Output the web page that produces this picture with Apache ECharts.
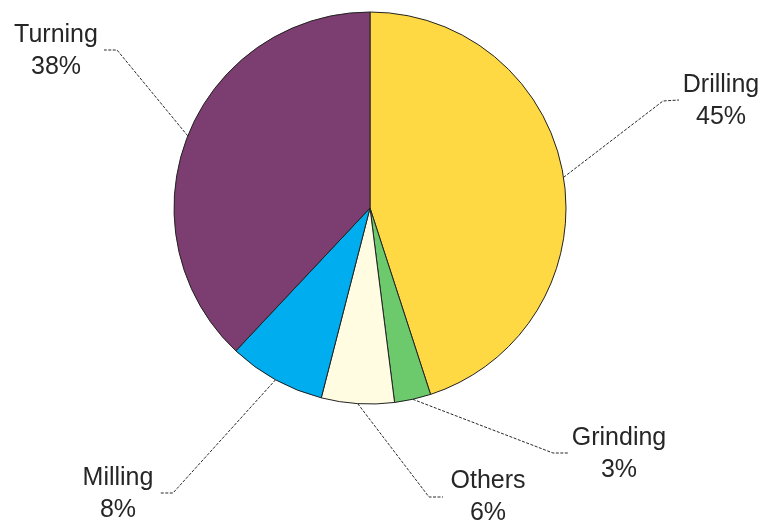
<!DOCTYPE html>
<html>
<head>
<meta charset="utf-8">
<script src="https://cdn.jsdelivr.net/npm/echarts@6/dist/echarts.min.js"></script>
<style>html,body{margin:0;padding:0;background:#fff;}#c{width:763px;height:523px;}</style>
</head>
<body>
<div id="c"></div>
<script>
// Data
const categories = ['Drilling', 'Grinding', 'Others', 'Milling', 'Turning'];
const values = [45, 3, 6, 8, 38];
const colors = ['#FFD944', '#6CC96C', '#FFFCE2', '#00AEEF', '#7C3D70'];

// Label placement (layout only)
const labelPos = [
  { x: 721, y: 101, lineEnd: [[663, 101], [679, 100]] },
  { x: 619, y: 454, lineEnd: [[553, 453], [568, 453]] },
  { x: 488, y: 497, lineEnd: [[429, 497], [443, 497]] },
  { x: 118, y: 494, lineEnd: [[173, 493], [160, 493]] },
  { x: 56,  y: 51,  lineEnd: [[117, 50], [104, 50]] }
];

const chart = echarts.init(document.getElementById('c'), null, { renderer: 'canvas' });
chart.setOption({
  backgroundColor: '#ffffff',
  animation: false,
  series: [{
    type: 'pie',
    center: [370, 208],
    radius: 196,
    startAngle: 90,
    clockwise: true,
    data: categories.map((name, i) => ({ name, value: values[i], itemStyle: { color: colors[i] } })),
    itemStyle: { borderColor: '#222222', borderWidth: 1 },
    label: {
      show: true,
      formatter: p => p.name + '\n' + Math.round(p.percent) + '%',
      fontFamily: 'Liberation Sans, Arial, sans-serif',
      fontSize: 25,
      lineHeight: 32,
      color: '#262626'
    },
    labelLine: {
      show: true,
      length: 20,
      length2: 15,
      lineStyle: { color: '#2a2a2a', width: 1, type: [3, 1.5] }
    },
    emphasis: { disabled: true },
    labelLayout: function (params) {
      const lp = labelPos[params.dataIndex];
      const start = params.labelLinePoints ? params.labelLinePoints[0] : lp.lineEnd[0];
      return {
        x: lp.x,
        y: lp.y,
        align: 'center',
        verticalAlign: 'middle',
        labelLinePoints: [start, lp.lineEnd[0], lp.lineEnd[1]]
      };
    }
  }]
});
</script>
</body>
</html>
